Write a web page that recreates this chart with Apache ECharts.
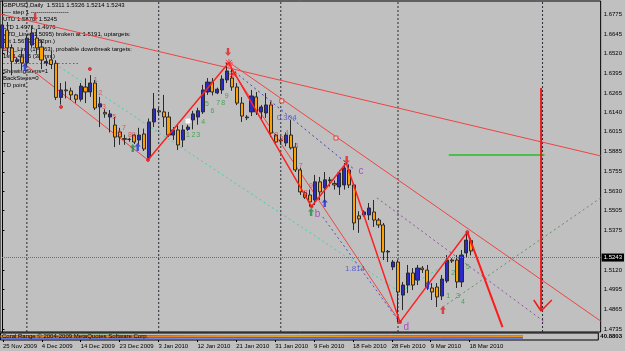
<!DOCTYPE html>
<html><head><meta charset="utf-8">
<script src="https://cdn.jsdelivr.net/npm/echarts@6/dist/echarts.min.js"></script>
<style>html,body{margin:0;padding:0;background:#c0c0c0;overflow:hidden}#c{width:625px;height:351px}</style>
</head><body><div id="c"></div>
<script>
// ---------- DATA ----------
const dates = [
'25 Nov 2009','26 Nov 2009','27 Nov 2009','29 Nov 2009','30 Nov 2009',
'1 Dec 2009','2 Dec 2009','3 Dec 2009','4 Dec 2009','6 Dec 2009','7 Dec 2009','8 Dec 2009','9 Dec 2009','10 Dec 2009','11 Dec 2009','13 Dec 2009','14 Dec 2009','15 Dec 2009','16 Dec 2009','17 Dec 2009','18 Dec 2009','20 Dec 2009','21 Dec 2009','22 Dec 2009','23 Dec 2009','24 Dec 2009','25 Dec 2009','27 Dec 2009','28 Dec 2009','29 Dec 2009','30 Dec 2009','31 Dec 2009',
'3 Jan 2010','4 Jan 2010','5 Jan 2010','6 Jan 2010','7 Jan 2010','8 Jan 2010','10 Jan 2010','11 Jan 2010','12 Jan 2010','13 Jan 2010','14 Jan 2010','15 Jan 2010','17 Jan 2010','18 Jan 2010','19 Jan 2010','20 Jan 2010','21 Jan 2010','22 Jan 2010','24 Jan 2010','25 Jan 2010','26 Jan 2010','27 Jan 2010','28 Jan 2010','29 Jan 2010','31 Jan 2010',
'1 Feb 2010','2 Feb 2010','3 Feb 2010','4 Feb 2010','5 Feb 2010','7 Feb 2010','8 Feb 2010','9 Feb 2010','10 Feb 2010','11 Feb 2010','12 Feb 2010','14 Feb 2010','15 Feb 2010','16 Feb 2010','17 Feb 2010','18 Feb 2010','19 Feb 2010','21 Feb 2010','22 Feb 2010','23 Feb 2010','24 Feb 2010','25 Feb 2010','26 Feb 2010','28 Feb 2010',
'1 Mar 2010','2 Mar 2010','3 Mar 2010','4 Mar 2010','5 Mar 2010','7 Mar 2010','8 Mar 2010','9 Mar 2010','10 Mar 2010','11 Mar 2010','12 Mar 2010','14 Mar 2010','15 Mar 2010','16 Mar 2010','17 Mar 2010','18 Mar 2010'];
const futureDates = ['19 Mar 2010','21 Mar 2010','22 Mar 2010','23 Mar 2010','24 Mar 2010','25 Mar 2010','26 Mar 2010','28 Mar 2010','29 Mar 2010','30 Mar 2010','31 Mar 2010','1 Apr 2010','2 Apr 2010','4 Apr 2010','5 Apr 2010','6 Apr 2010','7 Apr 2010','8 Apr 2010','9 Apr 2010','11 Apr 2010','12 Apr 2010','13 Apr 2010','14 Apr 2010','15 Apr 2010','16 Apr 2010','18 Apr 2010'];

const opens = [1.6557,1.6673,1.6557,1.6470,1.6499,1.6460,1.6576,1.6621,1.6563,1.6460,
1.6480,1.6458,1.6237,1.6285,1.6279,1.6253,1.6225,1.6304,1.6272,1.6330,
1.6175,1.6140,1.6110,1.6058,1.6013,1.5970,1.5966,1.5993,1.5961,1.6000,
1.5845,1.6078,1.6150,1.6143,1.6110,1.5993,1.6026,1.5961,1.6030,1.6091,
1.6110,1.6143,1.6272,1.6336,1.6266,1.6285,1.6350,1.6362,1.6304,1.6200,
1.6110,1.6143,1.6240,1.6143,1.6136,1.6188,1.5993,1.5961,1.5942,1.5993,
1.5915,1.5767,1.5620,1.5605,1.5573,1.5690,1.5651,1.5703,1.5680,1.5657,
1.5670,1.5767,1.5670,1.5470,1.5476,1.5476,1.5495,1.5443,1.5411,1.5236,
1.5139,1.5171,1.4957,1.5022,1.5100,1.5054,1.5132,1.5119,1.5003,1.5009,
1.4951,1.5048,1.5184,1.5184,1.5042,1.5230,1.5311];
const closes = [1.6706,1.6557,1.6470,1.6480,1.6460,1.6620,1.6654,1.6557,1.6479,1.6470,
1.6450,1.6237,1.6285,1.6280,1.6253,1.6225,1.6310,1.6272,1.6330,1.6168,
1.6195,1.6130,1.6130,1.5980,1.5980,1.5966,1.5965,1.5948,1.5993,1.5903,
1.6078,1.6162,1.6143,1.6110,1.5993,1.6026,1.5929,1.6026,1.6045,1.6130,
1.6150,1.6285,1.6336,1.6272,1.6290,1.6356,1.6408,1.6304,1.6200,1.6116,
1.6105,1.6246,1.6143,1.6175,1.6188,1.6006,1.5948,1.5955,1.5993,1.5910,
1.5767,1.5625,1.5590,1.5560,1.5690,1.5625,1.5703,1.5698,1.5670,1.5748,
1.5780,1.5670,1.5424,1.5450,1.5495,1.5521,1.5443,1.5411,1.5236,1.5240,
1.5171,1.4977,1.5022,1.5100,1.5022,1.5132,1.5122,1.5009,1.4977,1.4945,
1.5061,1.5184,1.5178,1.5042,1.5216,1.5313,1.5243];
const lows = [1.6544,1.6511,1.6380,1.6455,1.6414,1.6440,1.6560,1.6520,1.6420,1.6440,
1.6420,1.6220,1.6190,1.6230,1.6220,1.6200,1.6210,1.6200,1.6240,1.6155,
1.6045,1.6105,1.6010,1.5915,1.5930,1.5930,1.5950,1.5935,1.5930,1.5890,
1.5832,1.6045,1.6120,1.6045,1.5980,1.5961,1.5896,1.5915,1.6020,1.6030,
1.6060,1.6130,1.6253,1.6250,1.6258,1.6260,1.6330,1.6280,1.6187,1.6078,
1.6090,1.6116,1.6123,1.6091,1.6104,1.5980,1.5935,1.5930,1.5920,1.5900,
1.5754,1.5605,1.5580,1.5530,1.5540,1.5573,1.5560,1.5660,1.5640,1.5605,
1.5640,1.5650,1.5378,1.5360,1.5465,1.5443,1.5398,1.5392,1.5184,1.5171,
1.5119,1.4782,1.4860,1.4970,1.4990,1.5022,1.5100,1.4990,1.4925,1.4880,
1.4925,1.5035,1.5165,1.5003,1.5009,1.5200,1.5214];
const highs = [1.6770,1.6725,1.6580,1.6495,1.6544,1.6640,1.6700,1.6680,1.6610,1.6490,
1.6540,1.6478,1.6330,1.6340,1.6300,1.6260,1.6330,1.6360,1.6381,1.6350,
1.6240,1.6160,1.6155,1.6110,1.6040,1.5995,1.5975,1.6000,1.6040,1.6035,
1.6100,1.6265,1.6170,1.6253,1.6143,1.6045,1.6058,1.6058,1.6060,1.6150,
1.6170,1.6318,1.6362,1.6362,1.6300,1.6380,1.6460,1.6420,1.6330,1.6239,
1.6122,1.6285,1.6272,1.6188,1.6265,1.6207,1.6000,1.5985,1.6010,1.6090,
1.5942,1.5780,1.5630,1.5640,1.5735,1.5722,1.5754,1.5722,1.5700,1.5767,
1.5812,1.5800,1.5683,1.5500,1.5505,1.5553,1.5573,1.5456,1.5424,1.5249,
1.5184,1.5184,1.5042,1.5152,1.5132,1.5152,1.5145,1.5152,1.5035,1.5035,
1.5087,1.5216,1.5195,1.5216,1.5249,1.5365,1.5326];

const yTicks = [1.6775,1.6645,1.6520,1.6395,1.6265,1.6140,1.6015,1.5885,1.5755,1.5630,1.5505,1.5375,1.5120,1.4995,1.4865,1.4735];
const priceMin = 1.4718, priceMax = 1.6861;
const lastPrice = 1.5243;
const indicatorScale = 40.8803;

// trend lines: [barIndex, price]
const lineA = [[-0.5,1.6777],[122.5,1.5858]];
const lineB = [[46.6,1.6460],[122.5,1.4789]];
const lineC = [[47.0,1.6414],[81.4,1.4783]];
const lineD = [[-0.5,1.6576],[29.8,1.5832]];
const zigzag = [[29.8,1.5832],[46.3,1.6460],[63.3,1.5530],[70.4,1.5812],[81.4,1.4782],[95.2,1.5365]];
const projection = [[95.2,1.5365],[102.4,1.4750]];
const cyanDots = [[10.8,1.6453],[81.4,1.4976],[95.7,1.5249]];
const blueDots = [[47.6,1.6401],[72.2,1.5767]];
const blueDots2 = [[65.6,1.5463],[81.0,1.4796]];
const purpleDots = [[76.7,1.5586],[111.0,1.4783]];
const greenDots = [[90.2,1.4880],[122.5,1.5586]];
const greenTarget = [[91.4,1.5864],[111.0,1.5864]];
const redArrowShaft = [[110.3,1.6298],[110.3,1.4854]];
const redArrowHead = [[108.8,1.4925],[110.3,1.4854],[112.5,1.4925]];
const separators = [5, 32, 57, 81, 110.6];

// marks
const redNumbers = [['1',19.1,1.6350],['2',20.0,1.6263],['3',20.8,1.6173],['5',22.9,1.6112],['6',23.9,1.6004],['7',24.9,1.6037],['8',26.1,1.5993],['9',26.9,1.5993],
  ['1',55.1,1.6199],['2',56.1,1.5993],['3',57.2,1.5970],['4',58.2,1.6009],['6',60.2,1.5922],['7',61.1,1.5793],['8',62.1,1.5616],['9',63.2,1.5665]];
const greenNumbers = [['1',38.0,1.5993],['2',39.1,1.5993],['3',40.1,1.5993],['4',41.1,1.6080],['5',41.9,1.6192],['6',43.0,1.6151],['7',44.2,1.6203],['8',45.2,1.6203],['9',45.9,1.6248],
  ['1',91.3,1.4951],['2',92.3,1.5098],['3',93.3,1.4951],['4',94.3,1.4910],['5',95.3,1.5141]];
const waveLetters = [['b',64.5,1.5482],['c',73.4,1.5761],['d',82.7,1.4746]];
const fibTexts = [['0.304',58.2,1.6104],['1.814',72.2,1.5126]];
const blueUpArrows = [[4.6,1.6434],[27.7,1.5916],[66.0,1.5553],[87.1,1.5022]];
const greenUpArrows = [[26.7,1.5909],[63.2,1.5495]];
const redDownArrows = [[6.7,1.6757],[46.2,1.6531],[70.5,1.5832]];
const redUpArrows = [[90.2,1.4861]];
const lineSquares = [[57.2,1.6214],[68.3,1.5974]];
const whiteSquares = [[38.0,1.6084]];
const redDots = [[17.9,1.6421],[12.0,1.6175],[29.8,1.5832],[81.4,1.4782],[63.3,1.5530],[95.2,1.5365]];
const redStars = [[46.4,1.6460],[47.2,1.6388]];

const headerLines = ['GBPUSD,Daily  1.5311 1.5326 1.5214 1.5243','---- step 1 -------------------','UTD 1.5870, 1.5245','LTD 1.4971, 1.4976',
 'UTD_Line (1.5095) broken at 1.5191, uptargets:','1st 1.5673 (482pn.)','LTD_Line (1.4863), probable downbreak targets:','1st 1.4815 (380pn.)',
 '- - - - - - - - - - - - - - - - - - - - -','ShowingSteps=1','BackSteps=0','TD point'];
const indicatorTitle = 'Coral Range \u00a9 2004-2009 MetaQuotes Software Corp.';
const indGreen = [[-0.5,52],[20,55],[40,50],[60,48],[80,52],[107,50]];
const indYellow = [[-0.5,42],[25,40],[50,44],[75,40],[107,42]];
const indRed = [[-0.5,35],[30,36],[60,33],[90,36],[107,34]];
const indBlue = [[-0.5,22],[40,24],[80,22],[107,23]];

// ---------- CHART ----------
const allDates = dates.concat(futureDates);
const N = allDates.length;
const F = 'Liberation Sans, Arial, sans-serif';
const candles = opens.map((o,i)=>[o, closes[i], lows[i], highs[i]]);

function ln(pts, color, width, type, z){
  return {type:'line', xAxisIndex:1, yAxisIndex:0, data:pts, symbol:'none', silent:true, animation:false,
    lineStyle:{color:color, width:width, type:type||'solid'}, z:z||3};
}
function txt(arr, color, size, weight){
  return {type:'scatter', xAxisIndex:1, yAxisIndex:0, symbolSize:0, silent:true, animation:false, z:6,
    data:arr.map(a=>({name:a[0], value:[a[1],a[2]]})),
    label:{show:true, position:'inside', formatter:'{b}', color:color, fontSize:size, fontFamily:F, fontWeight:weight||'normal'}};
}
const upPath = 'path://M3,0 L6,3.5 L4.2,3.5 L4.2,8 L1.8,8 L1.8,3.5 L0,3.5 Z';
function arrows(arr, color, rot){
  return {type:'scatter', xAxisIndex:1, yAxisIndex:0, data:arr, symbol:upPath, symbolSize:[6,8], symbolRotate:rot||0,
    silent:true, animation:false, z:7, itemStyle:{color:color}};
}
function marks(arr, symbol, size, fill, border){
  return {type:'scatter', xAxisIndex:1, yAxisIndex:0, data:arr, symbol:symbol, symbolSize:size, silent:true, animation:false, z:6,
    itemStyle:{color:fill, borderColor:border||fill, borderWidth:1}};
}

const series = [];
separators.forEach(s => series.push(ln([[s,priceMin],[s,priceMax]], '#2a2a34', 1, [2,2], 1)));
series.push({type:'candlestick', xAxisIndex:0, yAxisIndex:0, data:candles, barWidth:3.6, animation:false, z:4,
  itemStyle:{color:'#2a2ac8', color0:'#ffa000', borderColor:'#2a2a2a', borderColor0:'#2a2a2a', borderWidth:1},
  markLine:{silent:true, symbol:['none','none'], animation:false, data:[{yAxis:lastPrice}],
    lineStyle:{color:'#d84040', type:'dotted', width:1},
    label:{show:true, position:'end', distance:1, formatter:lastPrice.toFixed(4), color:'#ffffff', backgroundColor:'#000000', fontSize:6, fontFamily:F, padding:[1,2,1,2]}}
});
series.push(ln(cyanDots, '#40d0b0', 1, [2,3]));
series.push(ln(blueDots, '#4040c0', 1, [2,3]));
series.push(ln(blueDots2, '#5050c0', 1, [2,3]));
series.push(ln(purpleDots, '#9050a0', 1, [2,3]));
series.push(ln(greenDots, '#609060', 1, [2,3]));
series.push(ln(greenTarget, '#22c022', 1.5));
series.push(ln(lineA, '#ee4444', 1));
series.push(ln(lineB, '#ee4444', 1));
series.push(ln(lineC, '#ee4444', 1));
series.push(ln(lineD, '#ee4444', 1));
series.push(ln(zigzag, '#ff2020', 1.5, 'solid', 5));
series.push(ln(projection, '#ff1a1a', 2, 'solid', 5));
series.push(ln(redArrowShaft, '#ee1a1a', 2, 'solid', 5));
series.push(ln(redArrowHead, '#ee1a1a', 1.5, 'solid', 5));
series.push(marks(lineSquares, 'rect', 4, '#dcdcdc', '#e03030'));
series.push(marks(whiteSquares, 'rect', 4, '#ffffff'));
series.push(marks(redDots, 'circle', 3, '#e02020'));
series.push(marks(redStars, 'path://M0,4 L8,4 M4,0 L4,8 M1,1 L7,7 M7,1 L1,7', 8, 'none', '#ff2020'));
series.push(arrows(blueUpArrows, '#2030e0'));
series.push(arrows(greenUpArrows, '#209040'));
series.push(arrows(redDownArrows, '#e02020', 180));
series.push(arrows(redUpArrows, '#e02020'));
series.push(txt(redNumbers, '#e03a3a', 7));
series.push(txt(greenNumbers, '#2a9a3a', 7));
series.push(txt(waveLetters, '#a030c0', 10));
series.push(txt(fibTexts, '#4848d0', 8));
// indicator window
[[indGreen,'#10c010'],[indYellow,'#e8e800'],[indRed,'#f03030'],[indBlue,'#2040f0']].forEach(p=>{
  series.push({type:'line', xAxisIndex:3, yAxisIndex:1, data:p[0], symbol:'none', silent:true, animation:false, lineStyle:{color:p[1], width:1}});
});

const graphics = headerLines.map((t,i)=>({type:'text', left:3, top:2 + i*7.34, silent:true,
  style:{text:t, fill:'#000', font:'6px '+F}}));
graphics.push({type:'text', left:2, top:333, silent:true, z:100, style:{text:indicatorTitle, fill:'#000', font:'6px '+F}});

const option = {
  backgroundColor:'#c0c0c0',
  animation:false,
  grid:[
    {left:0, top:1, width:601, height:331, show:true, borderColor:'#000', borderWidth:1, backgroundColor:'transparent'},
    {left:0, top:333, width:601, height:7, show:true, borderColor:'#000', borderWidth:1, backgroundColor:'transparent'}
  ],
  xAxis:[
    {type:'category', gridIndex:0, data:allDates, boundaryGap:true, axisLine:{show:false}, axisTick:{show:false}, axisLabel:{show:false}, splitLine:{show:false}},
    {type:'value', gridIndex:0, min:-0.5, max:N-0.5, show:false},
    {type:'category', gridIndex:1, data:allDates, boundaryGap:true, axisLine:{show:false},
      axisTick:{show:true, length:2, alignWithLabel:true, interval:(i)=> i%8===0 && i<dates.length, lineStyle:{color:'#000'}},
      axisLabel:{show:true, interval:(i)=> i%8===0 && i<dates.length, align:'left', fontSize:6, fontFamily:F, color:'#000', margin:3}},
    {type:'value', gridIndex:1, min:-0.5, max:N-0.5, show:false}
  ],
  yAxis:[
    {type:'value', gridIndex:0, position:'right', min:priceMin, max:priceMax,
      axisLine:{show:true, lineStyle:{color:'#000'}}, splitLine:{show:false},
      axisTick:{show:true, length:2, customValues:yTicks, lineStyle:{color:'#000'}},
      axisLabel:{customValues:yTicks, formatter:v=>v.toFixed(4), fontSize:6, fontFamily:F, color:'#000', margin:3}},
    {type:'value', gridIndex:1, position:'right', min:0, max:indicatorScale*2,
      axisLine:{show:false}, splitLine:{show:false}, axisTick:{show:false},
      axisLabel:{customValues:[indicatorScale], formatter:v=>v.toFixed(4), fontSize:6, fontWeight:'bold', fontFamily:F, color:'#000', margin:2}}
  ],
  graphic:graphics,
  series:series
};
const chart = echarts.init(document.getElementById('c'), null, {renderer:'canvas', width:625, height:351});
chart.setOption(option);
</script></body></html>
